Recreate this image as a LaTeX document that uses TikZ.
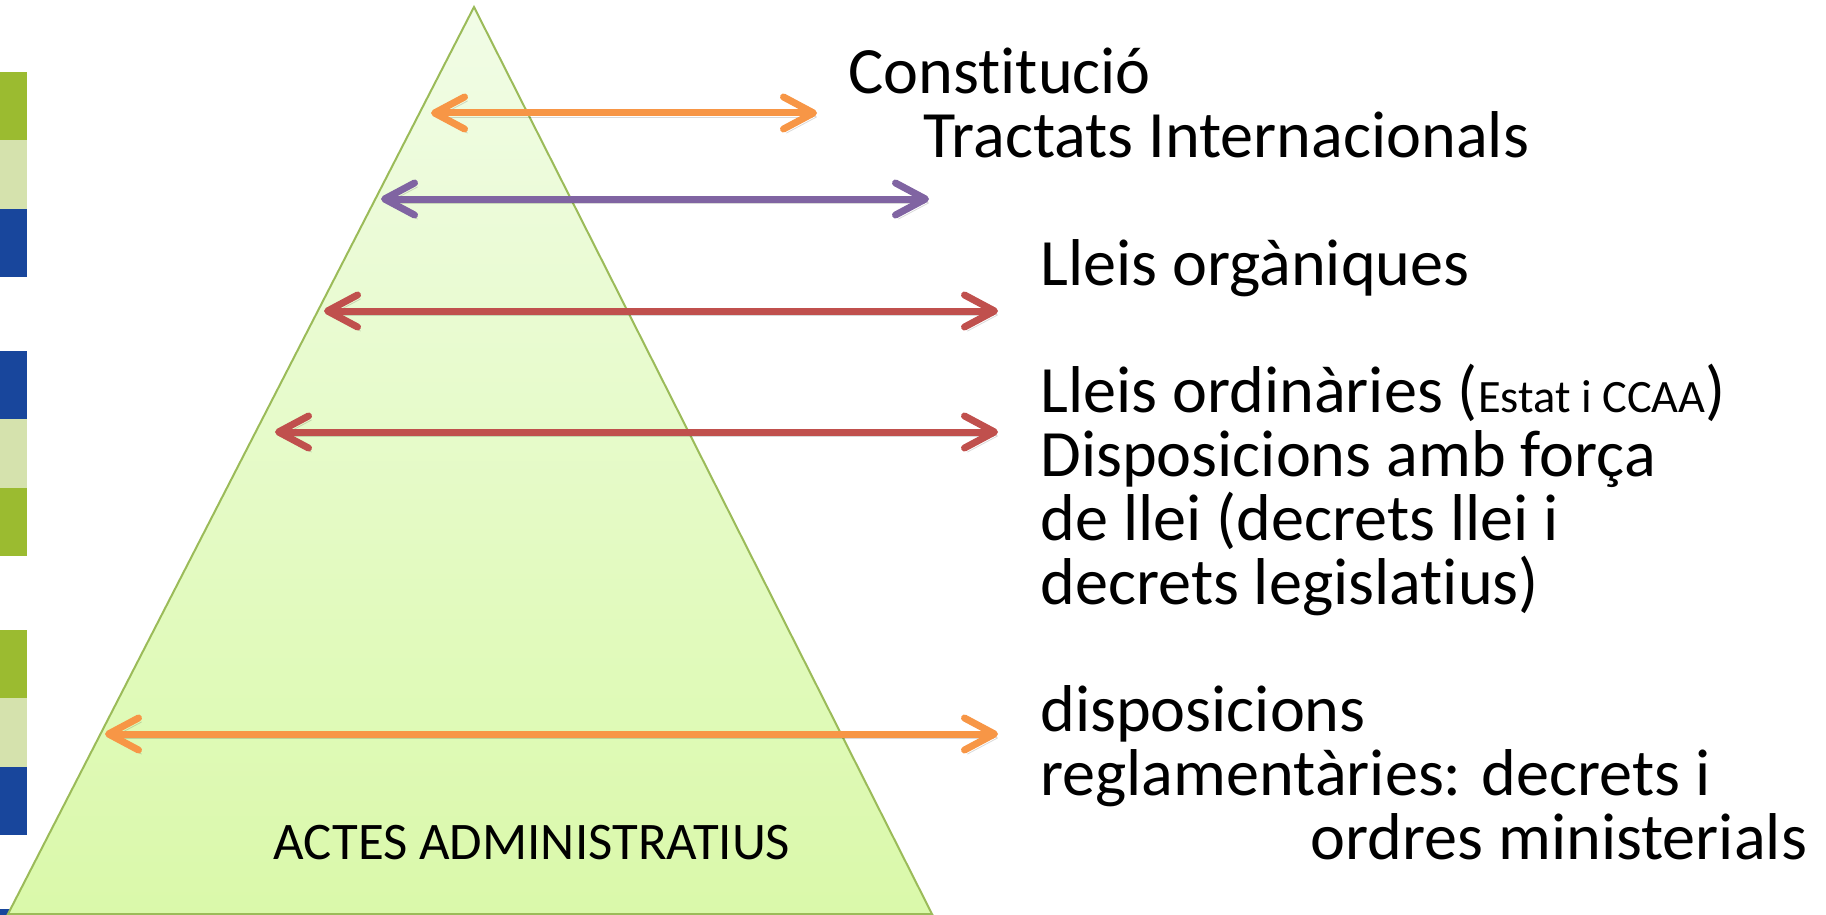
\documentclass[tikz,border=0pt]{standalone}
\usepackage{xcolor}
\usepackage{fontspec}
\setmainfont{Carlito}[Ligatures=NoCommon]
\usepackage{tikz}
\usetikzlibrary{positioning, calc, arrows.meta}

\definecolor{barGreen}{HTML}{9BBB30}
\definecolor{barLight}{HTML}{D5E2AD}
\definecolor{barBlue}{HTML}{18469C}
\definecolor{pyrEdge}{HTML}{9BBB59}
\definecolor{pyrTop}{HTML}{F1FCE6}
\definecolor{pyrBottom}{HTML}{DAF9AA}
\definecolor{arrOrange}{HTML}{F79646}
\definecolor{arrPurple}{HTML}{8064A2}
\definecolor{arrRed}{HTML}{C0504D}

\begin{document}
\begin{tikzpicture}[
    x=0.5pt, y=-0.5pt,
    >={Straight Barb[length=15pt, width=16pt, round]},
    pyramid/.style={draw=pyrEdge, line width=1pt, top color=pyrTop, bottom color=pyrBottom},
    level_arrow/.style={<->, line width=3.5pt, line cap=round, draw=#1,
        preaction={draw=black, opacity=0.15, transform canvas={shift={(1.5pt,-2pt)}}}},
    level_text/.style={anchor=base west, inner sep=0pt, align=left, font=\fontsize{33.1}{32}\selectfont},
    pyr_label/.style={anchor=base, inner sep=0pt, font=\fontsize{26.4}{30}\selectfont}
]
    \useasboundingbox (0,0) rectangle (1826,915);

    % Barres laterals
    \foreach \top/\col in {72/barGreen, 140.3/barLight, 208.7/barBlue,
                           351/barBlue, 419.3/barLight, 487.7/barGreen,
                           630/barGreen, 698.3/barLight, 766.7/barBlue}
        \fill[\col] (0,\top) rectangle (27,\top+68.4);
    \fill[barBlue] (0,909) rectangle (27,915);

    % Piramide
    \coordinate (apex) at (474,7);
    \coordinate (baseL) at (8,914);
    \coordinate (baseR) at (932,914);
    \draw[pyramid] (apex) -- (baseR) -- (baseL) -- cycle;
    \node[pyr_label] (actes) at (532,859) {ACTES ADMINISTRATIUS};

    % Extrems de les fletxes
    \coordinate (constL) at (431,113);  \coordinate (constR) at (817,113);
    \coordinate (tractL) at (381,199);  \coordinate (tractR) at (929,199);
    \coordinate (organL) at (324,311);  \coordinate (organR) at (998,311);
    \coordinate (ordinL) at (275,432);  \coordinate (ordinR) at (998,432);
    \coordinate (reglaL) at (105,734);  \coordinate (reglaR) at (998,734);

    % Fletxes
    \draw[level_arrow=arrOrange] (constL) -- (constR);
    \draw[level_arrow=arrPurple] (tractL) -- (tractR);
    \draw[level_arrow=arrRed] (organL) -- (organR);
    \draw[level_arrow=arrRed] (ordinL) -- (ordinR);
    \draw[level_arrow=arrOrange] (reglaL) -- (reglaR);

    % Nivells (base = darrera linia)
    \node[level_text] (constitucio) at (848,157) {Constitució\\\hspace*{37.5pt}Tractats Internacionals};
    \node[level_text] (organiques) at (1040,285) {Lleis orgàniques};
    \node[level_text] (ordinaries) at (1040,604) {Lleis ordinàries ({\fontsize{23.2}{26}\selectfont Estat i CCAA})\\Disposicions amb força\\de llei (decrets llei i\\decrets legislatius)};
    \node[level_text] (reglament) at (1040,859) {disposicions\\reglamentàries: decrets i\\\hspace*{135pt}ordres ministerials};
\end{tikzpicture}
\end{document}
